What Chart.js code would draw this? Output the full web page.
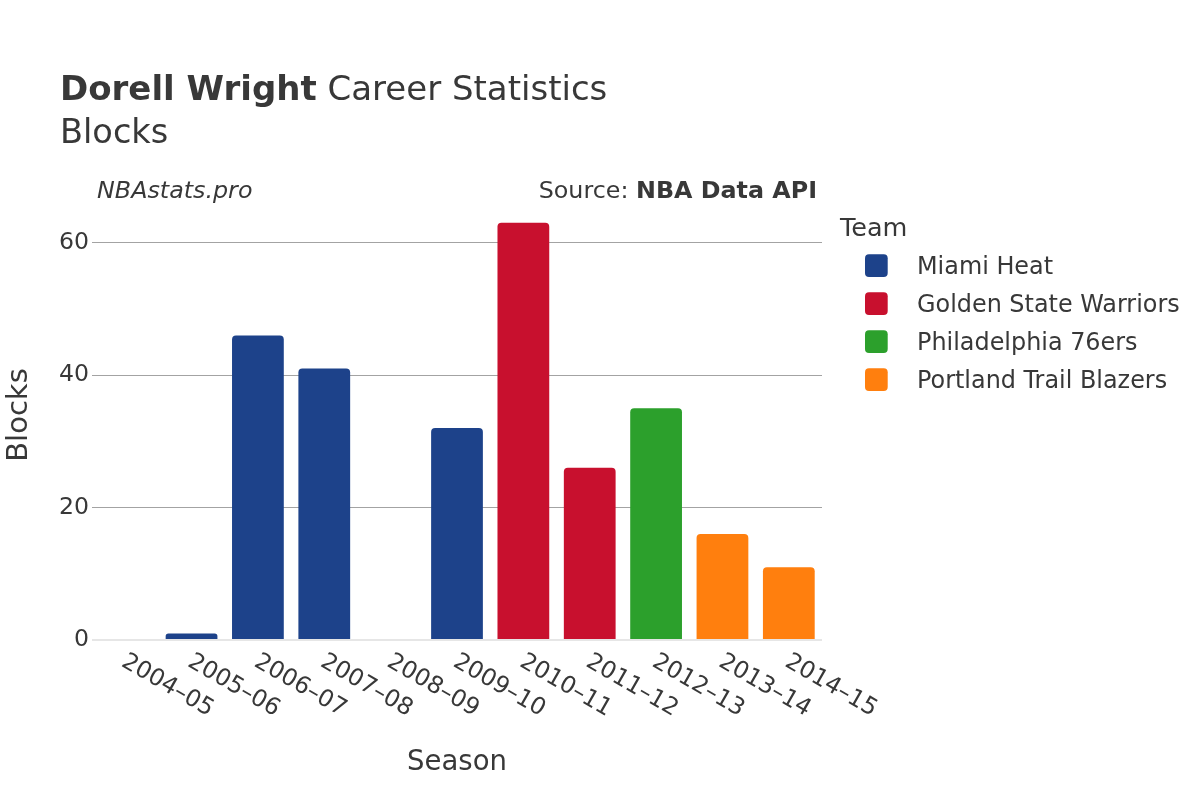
<!DOCTYPE html>
<html>
<head>
<meta charset="utf-8">
<script src="https://cdn.jsdelivr.net/npm/chart.js@4.4.1/dist/chart.umd.min.js"></script>
<style>
html,body{margin:0;padding:0;background:#fff;}
#wrap{position:relative;width:1200px;height:800px;}
</style>
</head>
<body>
<div id="wrap"><canvas id="c" width="1200" height="800"></canvas></div>
<script>
// ---- data ----
const seasons = ['2004–05','2005–06','2006–07','2007–08','2008–09','2009–10','2010–11','2011–12','2012–13','2013–14','2014–15'];
const teams = ['Miami Heat','Golden State Warriors','Philadelphia 76ers','Portland Trail Blazers'];
const teamColors = ['#1d428a','#c8102e','#2ca02c','#ff7f0e'];
const miamiHeat    = [0, 1, 46, 41, 0, 32, null, null, null, null, null];
const goldenState  = [null, null, null, null, null, null, 63, 26, null, null, null];
const philadelphia = [null, null, null, null, null, null, null, null, 35, null, null];
const portland     = [null, null, null, null, null, null, null, null, null, 16, 11];
const yTickValues  = [0, 20, 40, 60];

const titleBold = 'Dorell Wright';
const titleRest = ' Career Statistics';
const subtitle = 'Blocks';
const siteLabel = 'NBAstats.pro';
const sourcePrefix = 'Source: ';
const sourceBold = 'NBA Data API';
const xTitle = 'Season';
const yTitle = 'Blocks';
const legendTitle = 'Team';

const FONT = '"DejaVu Sans", sans-serif';
const TXT = '#383838';

const seriesValues = [miamiHeat, goldenState, philadelphia, portland];
const datasets = teams.map((t, i) => ({
  label: t,
  data: seriesValues[i],
  backgroundColor: teamColors[i],
  borderWidth: 0,
  borderRadius: {topLeft: 4, topRight: 4, bottomLeft: 0, bottomRight: 0},
  borderSkipped: 'bottom',
  barPercentage: 0.78,
  categoryPercentage: 1.0
}));

const textPlugin = {
  id: 'texts',
  afterDraw(chart) {
    const ctx = chart.ctx;
    const xs = chart.scales.x;
    ctx.save();
    ctx.fillStyle = TXT;
    // Title
    ctx.textAlign = 'left';
    ctx.textBaseline = 'alphabetic';
    ctx.font = 'bold 34px ' + FONT;
    ctx.fillText(titleBold, 60, 100);
    const w = ctx.measureText(titleBold).width;
    ctx.font = '34px ' + FONT;
    ctx.fillText(titleRest, 60 + w, 100);
    ctx.font = '33.6px ' + FONT;
    ctx.fillText(subtitle, 60, 143);
    // annotations
    ctx.font = 'italic 23.8px ' + FONT;
    ctx.fillText(siteLabel, 97, 198);
    ctx.font = 'bold 23.8px ' + FONT;
    const bw = ctx.measureText(sourceBold).width;
    ctx.fillText(sourceBold, 817 - bw, 198);
    ctx.font = '23.8px ' + FONT;
    ctx.textAlign = 'right';
    ctx.fillText(sourcePrefix, 817 - bw, 198);
    // x tick labels, rotated 30deg clockwise
    ctx.font = '23.6px ' + FONT;
    ctx.textAlign = 'left';
    ctx.textBaseline = 'top';
    seasons.forEach((s, i) => {
      const px = xs.getPixelForValue(i);
      ctx.save();
      ctx.translate(px + 4, 650);
      ctx.rotate(Math.PI / 6);
      ctx.fillText(s, 0, 0);
      ctx.restore();
    });
    // axis titles
    ctx.textBaseline = 'alphabetic';
    ctx.textAlign = 'center';
    ctx.font = '27.5px ' + FONT;
    ctx.fillText(xTitle, (chart.chartArea.left + chart.chartArea.right) / 2, 770);
    ctx.save();
    ctx.translate(26.5, 415);
    ctx.rotate(-Math.PI / 2);
    ctx.font = '29px ' + FONT;
    ctx.fillText(yTitle, 0, 0);
    ctx.restore();
    // legend
    ctx.textAlign = 'left';
    ctx.font = '25.5px ' + FONT;
    ctx.fillText(legendTitle, 840, 236);
    ctx.font = '23.9px ' + FONT;
    teams.forEach((t, i) => {
      const cy = 265.5 + i * 38;
      ctx.fillStyle = teamColors[i];
      ctx.beginPath();
      ctx.roundRect(865, cy - 11.3, 22.7, 22.7, 4);
      ctx.fill();
      ctx.fillStyle = TXT;
      ctx.fillText(t, 917, cy + 8.5);
    });
    ctx.restore();
  }
};

new Chart(document.getElementById('c'), {
  type: 'bar',
  data: { labels: seasons, datasets },
  options: {
    responsive: false,
    animation: false,
    devicePixelRatio: 1,
    layout: { padding: { top: 201, bottom: 160, left: 0, right: 378 } },
    plugins: { legend: { display: false }, tooltip: { enabled: false } },
    scales: {
      x: {
        stacked: true,
        offset: true,
        grid: { display: false },
        border: { display: false },
        ticks: { display: false },
        afterFit(scale) { scale.height = 0; }
      },
      y: {
        stacked: true,
        min: 0,
        max: 66.3,
        afterBuildTicks(scale) { scale.ticks = yTickValues.map(v => ({ value: v })); },
        afterFit(scale) { scale.width = 92; },
        ticks: {
          color: TXT,
          padding: 3,
          font: { family: FONT, size: 23.6 }
        },
        border: { display: false },
        grid: {
          drawTicks: false,
          color: ctx => ctx.tick && ctx.tick.value === 0 ? '#e6e6e6' : '#a3a3a3',
          lineWidth: ctx => ctx.tick && ctx.tick.value === 0 ? 2 : 1
        }
      }
    }
  },
  plugins: [textPlugin]
});
</script>
</body>
</html>
